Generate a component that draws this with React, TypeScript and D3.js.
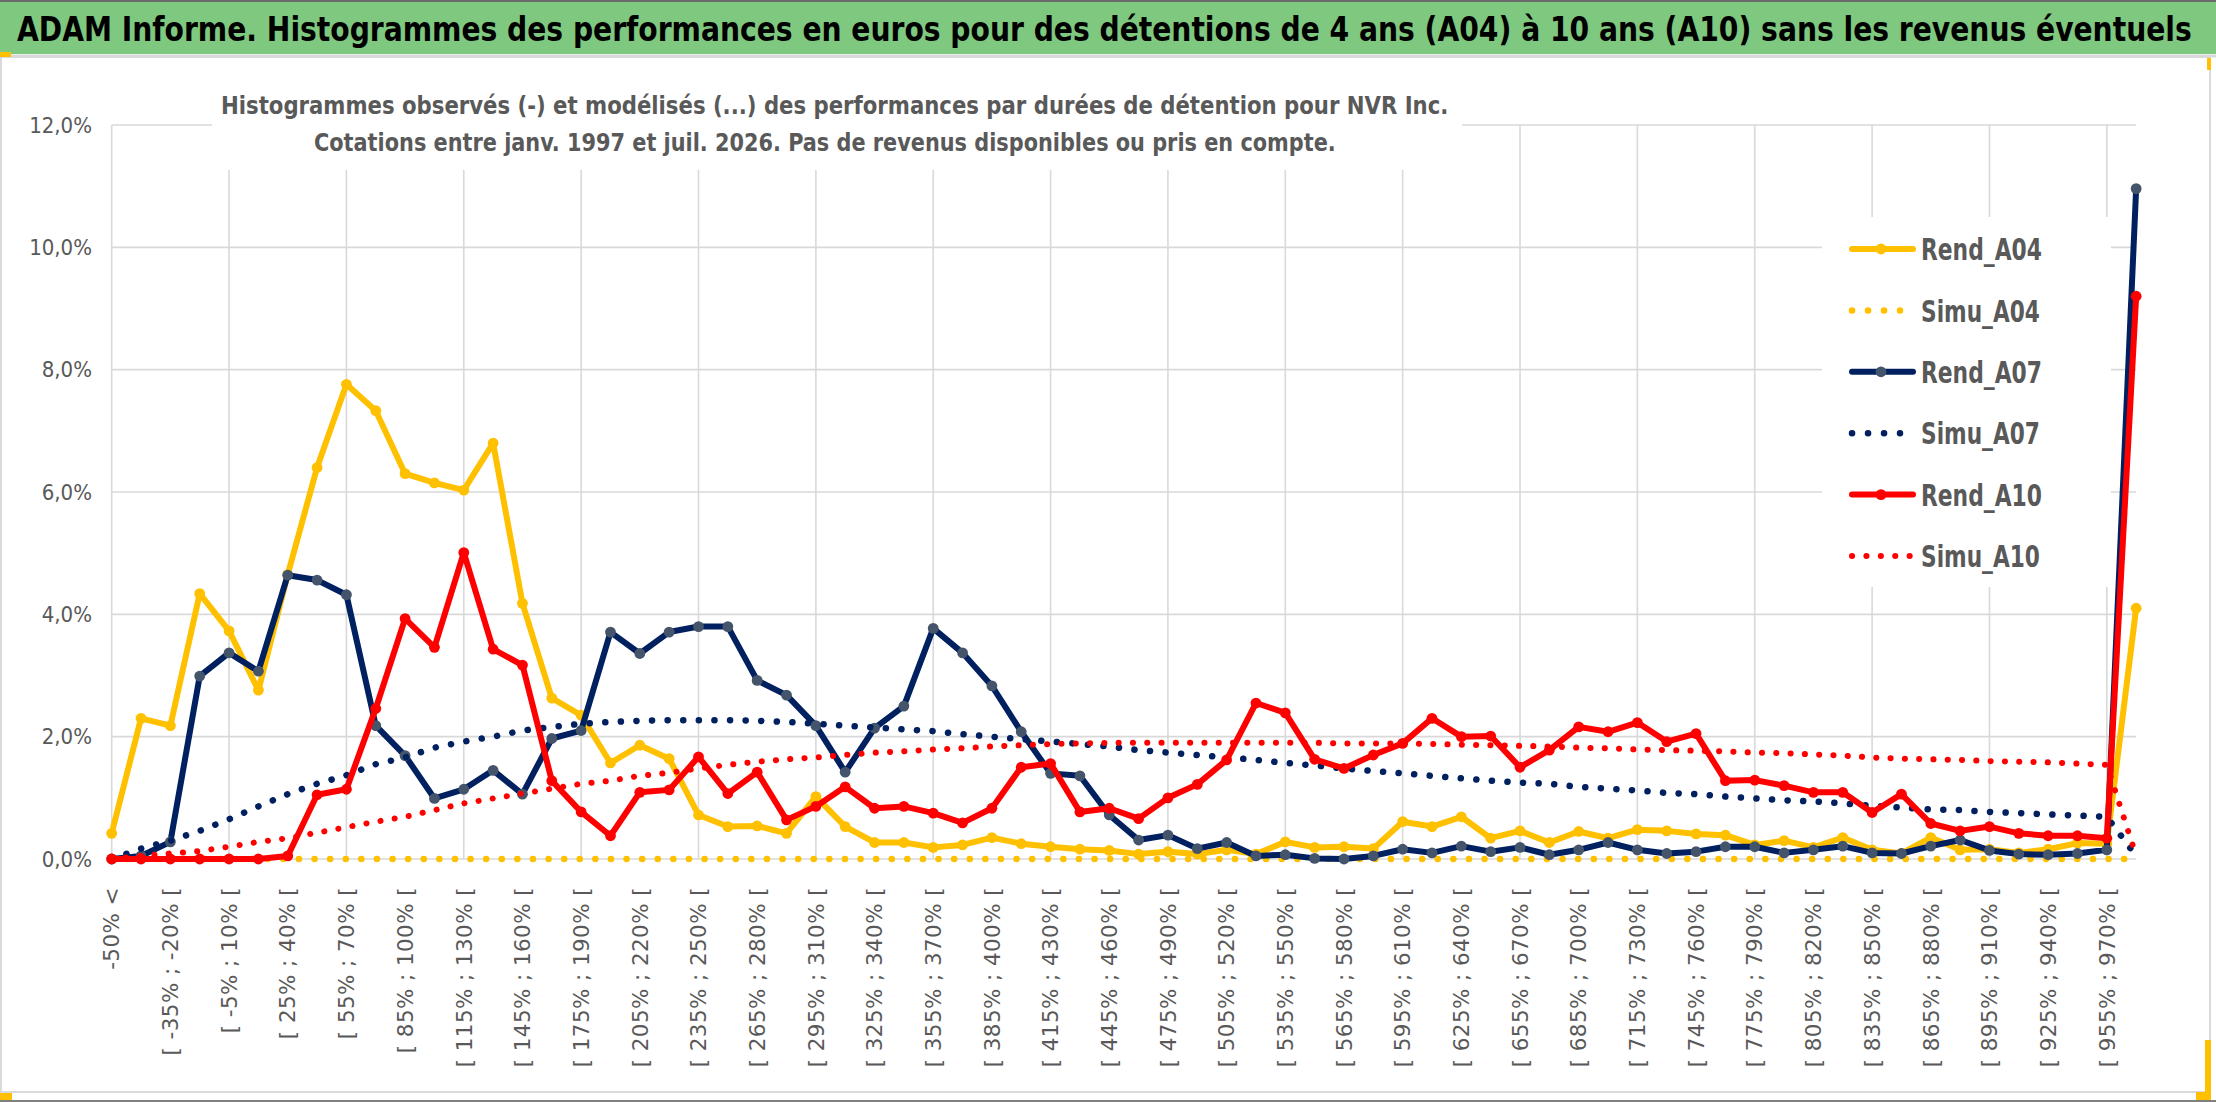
import { useLayoutEffect, useRef, useState } from 'react'
import * as d3 from 'd3'

// Bins of holding-period performance (first = below -50%, last = 970% and more)
const categories = [
  '-50% <',
  '[ -50% ; -35% [', '[ -35% ; -20% [', '[ -20% ; -5% [', '[ -5% ; 10% [', '[ 10% ; 25% [',
  '[ 25% ; 40% [', '[ 40% ; 55% [', '[ 55% ; 70% [', '[ 70% ; 85% [', '[ 85% ; 100% [',
  '[ 100% ; 115% [', '[ 115% ; 130% [', '[ 130% ; 145% [', '[ 145% ; 160% [', '[ 160% ; 175% [',
  '[ 175% ; 190% [', '[ 190% ; 205% [', '[ 205% ; 220% [', '[ 220% ; 235% [', '[ 235% ; 250% [',
  '[ 250% ; 265% [', '[ 265% ; 280% [', '[ 280% ; 295% [', '[ 295% ; 310% [', '[ 310% ; 325% [',
  '[ 325% ; 340% [', '[ 340% ; 355% [', '[ 355% ; 370% [', '[ 370% ; 385% [', '[ 385% ; 400% [',
  '[ 400% ; 415% [', '[ 415% ; 430% [', '[ 430% ; 445% [', '[ 445% ; 460% [', '[ 460% ; 475% [',
  '[ 475% ; 490% [', '[ 490% ; 505% [', '[ 505% ; 520% [', '[ 520% ; 535% [', '[ 535% ; 550% [',
  '[ 550% ; 565% [', '[ 565% ; 580% [', '[ 580% ; 595% [', '[ 595% ; 610% [', '[ 610% ; 625% [',
  '[ 625% ; 640% [', '[ 640% ; 655% [', '[ 655% ; 670% [', '[ 670% ; 685% [', '[ 685% ; 700% [',
  '[ 700% ; 715% [', '[ 715% ; 730% [', '[ 730% ; 745% [', '[ 745% ; 760% [', '[ 760% ; 775% [',
  '[ 775% ; 790% [', '[ 790% ; 805% [', '[ 805% ; 820% [', '[ 820% ; 835% [', '[ 835% ; 850% [',
  '[ 850% ; 865% [', '[ 865% ; 880% [', '[ 880% ; 895% [', '[ 895% ; 910% [', '[ 910% ; 925% [',
  '[ 925% ; 940% [', '[ 940% ; 955% [', '[ 955% ; 970% [', '970% >=',
]

// values in %
const rendA04 = [
  0.42, 2.30, 2.18, 4.34, 3.73, 2.76, 4.65, 6.40, 7.76, 7.33,
  6.30, 6.15, 6.03, 6.80, 4.18, 2.63, 2.35, 1.57, 1.86, 1.64,
  0.72, 0.53, 0.54, 0.42, 1.02, 0.53, 0.27, 0.27, 0.19, 0.23,
  0.35, 0.25, 0.20, 0.16, 0.14, 0.08, 0.12, 0.08, 0.15, 0.08,
  0.28, 0.19, 0.20, 0.17, 0.61, 0.53, 0.69, 0.34, 0.46, 0.27,
  0.45, 0.34, 0.48, 0.46, 0.41, 0.39, 0.23, 0.30, 0.19, 0.35,
  0.15, 0.09, 0.35, 0.15, 0.16, 0.10, 0.16, 0.26, 0.25, 4.10,
]
const simuA04 = [
  0, 0, 0, 0, 0, 0, 0, 0, 0, 0,
  0, 0, 0, 0, 0, 0, 0, 0, 0, 0,
  0, 0, 0, 0, 0, 0, 0, 0, 0, 0,
  0, 0, 0, 0, 0, 0, 0, 0, 0, 0,
  0, 0, 0, 0, 0, 0, 0, 0, 0, 0,
  0, 0, 0, 0, 0, 0, 0, 0, 0, 0,
  0, 0, 0, 0, 0, 0, 0, 0, 0, 0,
]
const rendA07 = [
  0.00, 0.05, 0.28, 2.99, 3.37, 3.07, 4.64, 4.56, 4.32, 2.18,
  1.69, 0.99, 1.14, 1.45, 1.06, 1.97, 2.10, 3.71, 3.36, 3.71,
  3.80, 3.80, 2.92, 2.68, 2.18, 1.42, 2.14, 2.50, 3.77, 3.37,
  2.83, 2.08, 1.40, 1.36, 0.72, 0.31, 0.39, 0.17, 0.27, 0.05,
  0.07, 0.01, 0.00, 0.05, 0.16, 0.10, 0.21, 0.12, 0.19, 0.07,
  0.15, 0.27, 0.15, 0.09, 0.12, 0.20, 0.20, 0.10, 0.15, 0.21,
  0.10, 0.09, 0.21, 0.31, 0.14, 0.08, 0.07, 0.09, 0.15, 10.96,
]
const simuA07 = [
  0.00, 0.17, 0.30, 0.46, 0.65, 0.86, 1.06, 1.23, 1.37, 1.55,
  1.66, 1.82, 1.92, 2.00, 2.10, 2.16, 2.21, 2.24, 2.26, 2.27,
  2.27, 2.27, 2.26, 2.24, 2.21, 2.18, 2.15, 2.12, 2.09, 2.04,
  2.00, 1.96, 1.92, 1.88, 1.84, 1.78, 1.74, 1.70, 1.66, 1.62,
  1.57, 1.53, 1.48, 1.44, 1.40, 1.36, 1.32, 1.28, 1.25, 1.23,
  1.18, 1.15, 1.12, 1.08, 1.06, 1.02, 0.99, 0.96, 0.94, 0.91,
  0.87, 0.84, 0.81, 0.80, 0.77, 0.75, 0.73, 0.71, 0.69, 0.05,
]
const rendA10 = [
  0.00, 0.00, 0.00, 0.00, 0.00, 0.00, 0.05, 1.05, 1.14, 2.46,
  3.93, 3.46, 5.01, 3.43, 3.17, 1.28, 0.77, 0.38, 1.09, 1.13,
  1.67, 1.07, 1.42, 0.64, 0.86, 1.18, 0.83, 0.86, 0.75, 0.59,
  0.83, 1.50, 1.56, 0.77, 0.83, 0.66, 1.00, 1.22, 1.62, 2.55,
  2.39, 1.63, 1.48, 1.70, 1.89, 2.30, 2.00, 2.01, 1.50, 1.78,
  2.16, 2.08, 2.23, 1.92, 2.05, 1.28, 1.29, 1.20, 1.09, 1.09,
  0.76, 1.06, 0.58, 0.46, 0.53, 0.42, 0.38, 0.38, 0.34, 9.20,
]
const simuA10 = [
  0.00, 0.05, 0.09, 0.13, 0.20, 0.28, 0.34, 0.43, 0.52, 0.61,
  0.69, 0.80, 0.91, 0.99, 1.07, 1.15, 1.23, 1.28, 1.36, 1.41,
  1.48, 1.54, 1.59, 1.63, 1.66, 1.70, 1.74, 1.76, 1.79, 1.81,
  1.84, 1.86, 1.88, 1.89, 1.90, 1.90, 1.90, 1.90, 1.90, 1.90,
  1.90, 1.90, 1.89, 1.89, 1.89, 1.88, 1.87, 1.86, 1.85, 1.84,
  1.82, 1.81, 1.79, 1.78, 1.77, 1.76, 1.74, 1.73, 1.71, 1.69,
  1.66, 1.64, 1.63, 1.62, 1.60, 1.59, 1.58, 1.56, 1.54, 0.05,
]

const yTicks = [0, 2, 4, 6, 8, 10, 12]
const yTickLabels = ['0,0%', '2,0%', '4,0%', '6,0%', '8,0%', '10,0%', '12,0%']

const TITLE =
  'ADAM Informe. Histogrammes des performances en euros pour des détentions de 4 ans (A04) à 10 ans (A10) sans les revenus éventuels'
const SUB1 =
  'Histogrammes observés (-) et modélisés (...) des performances par durées de détention pour NVR Inc.'
const SUB2 =
  'Cotations entre janv. 1997 et juil. 2026. Pas de revenus disponibles ou pris en compte.'

interface Series {
  name: string
  values: number[]
  color: string
  marker?: string
  dotted?: boolean
  dotStep?: number
  dotWidth?: number
}

const series: Series[] = [
  { name: 'Rend_A04', values: rendA04, color: '#FFC000', marker: '#FFC000' },
  { name: 'Simu_A04', values: simuA04, color: '#FFC000', dotted: true, dotStep: 15.6, dotWidth: 6.5 },
  { name: 'Rend_A07', values: rendA07, color: '#002060', marker: '#44546A' },
  { name: 'Simu_A07', values: simuA07, color: '#002060', dotted: true, dotStep: 15.6, dotWidth: 6.5 },
  { name: 'Rend_A10', values: rendA10, color: '#FF0000', marker: '#FF0000' },
  { name: 'Simu_A10', values: simuA10, color: '#FF0000', dotted: true, dotStep: 14.3, dotWidth: 6 },
]

const W = 2216
const H = 1102
const NARROW = "'Liberation Sans Narrow', 'DejaVu Sans Condensed', 'Arial Narrow', sans-serif"
const GRAY = '#595959'
const GRID = '#D9D9D9'

// Text squeezed horizontally to a given width (the original uses a narrow Calibri)
function FitText(props: {
  x: number
  y: number
  width: number
  size: number
  weight?: string
  fill: string
  dy?: string
  children: string
}) {
  const ref = useRef<SVGTextElement>(null)
  const [sx, setSx] = useState(1)
  useLayoutEffect(() => {
    if (!ref.current) return
    const w = ref.current.getComputedTextLength()
    if (w > 0) setSx(props.width / w)
  }, [props.width, props.children])
  return (
    <text
      ref={ref}
      transform={`translate(${props.x},${props.y}) scale(${sx},1)`}
      dy={props.dy}
      fontFamily={NARROW}
      fontWeight={props.weight ?? 'normal'}
      fontSize={props.size}
      fill={props.fill}
    >
      {props.children}
    </text>
  )
}

export default function App() {
  const x = d3
    .scalePoint<string>()
    .domain(categories)
    .range([111.7, 111.7 + 29.34 * (categories.length - 1)])
  const y = d3.scaleLinear().domain([0, 12]).range([859, 125])

  const line = (vals: number[]) =>
    d3
      .line<number>()
      .x((_, i) => x(categories[i]) as number)
      .y(d => y(d))(vals) as string

  const xLeft = x(categories[0]) as number
  const xRight = x(categories[categories.length - 1]) as number

  return (
    <svg
      width={W}
      height={H}
      style={{ position: 'absolute', left: 0, top: 0, background: '#fff' }}
    >
      {/* frame */}
      <rect x={0} y={0} width={W} height={H} fill="#fff" />
      <rect x={1} y={57} width={2209} height={1035} fill="none" stroke={GRID} strokeWidth={2} />
      <line x1={0} x2={W} y1={H - 1} y2={H - 1} stroke="#7f7f7f" strokeWidth={2} />

      {/* title bar */}
      <rect x={0} y={2} width={W} height={52} fill="#7FC87F" />
      <line x1={0} x2={W} y1={1} y2={1} stroke="#6b6b6b" strokeWidth={2} />
      <line x1={0} x2={W} y1={56} y2={56} stroke={GRID} strokeWidth={3} />
      <rect x={0} y={52} width={11} height={5} fill="#FFC000" />
      <rect x={2207} y={58} width={4} height={12} fill="#FFC000" />
      <rect x={0} y={1093} width={12} height={7} fill="#FFC000" />
      <rect x={2205} y={1040} width={6} height={52} fill="#FFC000" />
      <rect x={2196} y={1092} width={15} height={8} fill="#FFC000" />
      <FitText x={17} y={41} width={2176} size={33} weight="bold" fill="#000">
        {TITLE}
      </FitText>

      {/* grid */}
      <g>
        {yTicks.map(t => (
          <line key={`h${t}`} x1={xLeft} x2={xRight} y1={y(t)} y2={y(t)} stroke={GRID} strokeWidth={1.6} />
        ))}
        {categories
          .filter((_, i) => i % 4 === 0)
          .map(c => (
            <line key={`v${c}`} x1={x(c)} x2={x(c)} y1={y(12)} y2={y(0)} stroke={GRID} strokeWidth={1.6} />
          ))}
      </g>

      {/* y labels */}
      {yTicks.map((t, i) => (
        <text
          key={`yl${t}`}
          x={92}
          y={y(t)}
          dy="0.35em"
          textAnchor="end"
          fontFamily={NARROW}
          fontSize={22}
          fill={GRAY}
        >
          {yTickLabels[i]}
        </text>
      ))}

      {/* x labels */}
      {categories.map((c, i) =>
        i % 2 === 0 && i < categories.length - 1 ? (
          <text
            key={`xl${i}`}
            transform={`translate(${x(c)},887) rotate(-90)`}
            textAnchor="end"
            dy="0.36em"
            fontFamily="'DejaVu Sans', Verdana, sans-serif"
            fontSize={21.5}
            letterSpacing={0.4}
            fill={GRAY}
          >
            {c}
          </text>
        ) : null,
      )}

      {/* subtitle box */}
      <rect x={212} y={78} width={1250} height={92} fill="#fff" />
      <FitText x={221} y={114} width={1228} size={25} weight="bold" fill={GRAY}>
        {SUB1}
      </FitText>
      <FitText x={314} y={151} width={1022} size={25} weight="bold" fill={GRAY}>
        {SUB2}
      </FitText>

      {/* legend box */}
      <rect x={1822} y={217} width={289} height={370} fill="#fff" />

      {/* series */}
      {series.map(s => (
        <g key={s.name}>
          <path
            d={line(s.values)}
            fill="none"
            stroke={s.color}
            strokeWidth={s.dotted ? s.dotWidth : 6}
            strokeLinejoin="round"
            strokeLinecap="round"
            strokeDasharray={s.dotted ? `0.1 ${(s.dotStep as number) - 0.1}` : undefined}
          />
          {s.marker
            ? s.values.map((v, i) => (
                <circle key={i} cx={x(categories[i])} cy={y(v)} r={5.4} fill={s.marker} />
              ))
            : null}
        </g>
      ))}

      {/* legend */}
      {series.map((s, i) => {
        const cy = 249 + i * 61.4
        return (
          <g key={`lg${s.name}`}>
            {s.dotted ? (
              <line
                x1={1852}
                x2={s.name === 'Simu_A10' ? 1910 : 1900}
                y1={cy}
                y2={cy}
                stroke={s.color}
                strokeWidth={s.dotWidth}
                strokeLinecap="round"
                strokeDasharray={`0.1 ${s.name === 'Simu_A10' ? 14.3 : 15.9}`}
              />
            ) : (
              <>
                <line x1={1852} x2={1913} y1={cy} y2={cy} stroke={s.color} strokeWidth={6} strokeLinecap="round" />
                <circle cx={1881} cy={cy} r={5.4} fill={s.marker} />
              </>
            )}
            <FitText
              x={1921}
              y={cy}
              dy="0.36em"
              width={s.name.startsWith('Rend') ? 121 : 119}
              size={31}
              weight="bold"
              fill={GRAY}
            >
              {s.name}
            </FitText>
          </g>
        )
      })}
    </svg>
  )
}
